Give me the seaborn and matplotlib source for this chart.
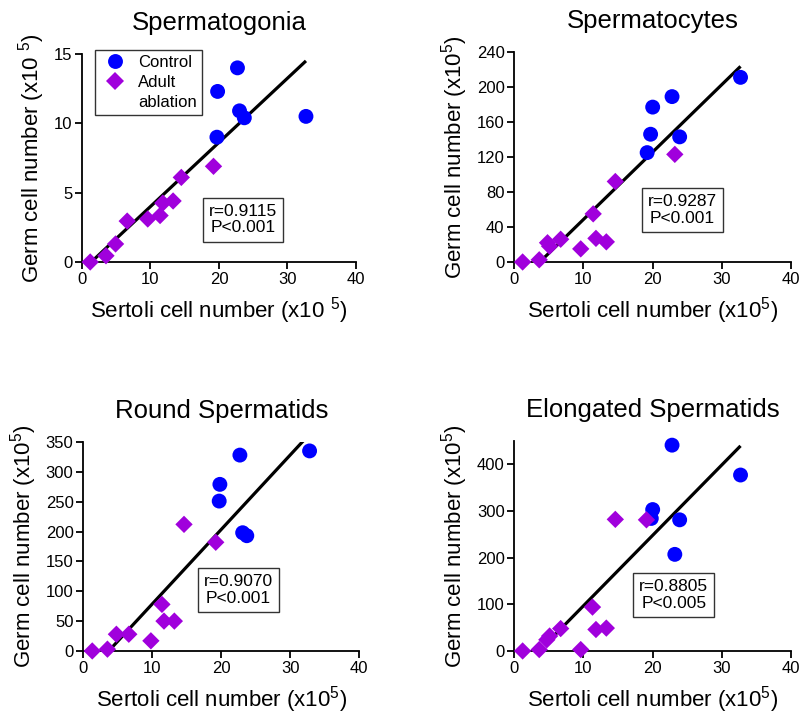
import numpy as np
import pandas as pd
import matplotlib
matplotlib.use("Agg")
import matplotlib.pyplot as plt
from matplotlib.lines import Line2D
import seaborn as sns

sns.set_theme(style="ticks")
plt.rcParams['font.family'] = ['Liberation Sans', 'DejaVu Sans']
plt.rcParams['mathtext.fontset'] = 'custom'
plt.rcParams['mathtext.rm'] = 'Liberation Sans'
plt.rcParams['mathtext.it'] = 'Liberation Sans'
plt.rcParams['text.color'] = 'black'
plt.rcParams['axes.labelcolor'] = 'black'
plt.rcParams['axes.titlecolor'] = 'black'
plt.rcParams['xtick.color'] = 'black'
plt.rcParams['ytick.color'] = 'black'

titles = ["Spermatogonia", "Spermatocytes", "Round Spermatids", "Elongated Spermatids"]

# Control (circles)
ctrl_x1 = [19.7, 19.8, 22.7, 23.0, 23.7, 32.7]
ctrl_y1 = [9.0, 12.3, 14.0, 10.9, 10.4, 10.5]
ctrl_x2 = [19.2, 19.7, 20.0, 22.8, 23.9, 32.7]
ctrl_y2 = [125, 146, 177, 189, 143, 211]
ctrl_x3 = [19.7, 19.8, 22.7, 23.1, 23.7, 32.8]
ctrl_y3 = [251, 279, 328, 198, 193, 335]
ctrl_x4 = [19.8, 20.0, 22.8, 23.2, 23.9, 32.7]
ctrl_y4 = [284, 303, 441, 207, 281, 377]

# Adult ablation (diamonds)
abl_x1 = [1.2, 3.5, 4.9, 6.6, 9.6, 11.4, 11.8, 13.3, 14.5, 19.2]
abl_y1 = [0.0, 0.45, 1.3, 2.95, 3.1, 3.35, 4.25, 4.4, 6.1, 6.9]
abl_x2 = [1.2, 3.6, 4.8, 5.1, 6.7, 9.6, 11.4, 11.8, 13.3, 14.6, 23.2]
abl_y2 = [0, 2.5, 22, 18, 26, 15, 55, 27, 23, 92, 123]
abl_x3 = [1.3, 3.5, 4.8, 6.6, 9.8, 11.4, 11.7, 13.2, 14.6, 19.2]
abl_y3 = [0, 3, 28, 28, 17, 78, 50, 50, 212, 182]
abl_x4 = [1.2, 3.6, 4.7, 5.1, 6.7, 9.6, 11.3, 11.8, 13.3, 14.6, 19.1]
abl_y4 = [0, 3, 24, 32, 48, 3, 94, 46, 49, 282, 281]

fit_start = [1.45, 4.2, 4.1, 4.4]
stats = ["r=0.9115\nP<0.001", "r=0.9287\nP<0.001", "r=0.9070\nP<0.001", "r=0.8805\nP<0.005"]
y_max = [15, 240, 350, 450]
y_ticks = [[0, 5, 10, 15], [0, 40, 80, 120, 160, 200, 240],
           [0, 50, 100, 150, 200, 250, 300, 350], [0, 100, 200, 300, 400]]
x_ticks = [0, 10, 20, 30, 40]
xlabels = ["Sertoli cell number (x10 $^{5}$)", "Sertoli cell number (x10$^{5}$)",
           "Sertoli cell number (x10$^{5}$)", "Sertoli cell number (x10$^{5}$)"]
ylabels = ["Germ cell number (x10 $^{5}$)", "Germ cell number (x10$^{5}$)",
           "Germ cell number (x10$^{5}$)", "Germ cell number (x10$^{5}$)"]

ctrl = [(ctrl_x1, ctrl_y1), (ctrl_x2, ctrl_y2), (ctrl_x3, ctrl_y3), (ctrl_x4, ctrl_y4)]
abl = [(abl_x1, abl_y1), (abl_x2, abl_y2), (abl_x3, abl_y3), (abl_x4, abl_y4)]

BLUE = "#0000FF"
PURPLE = "#A000DC"
groups = ["Control", "Adult ablation"]
legend_labels = ["Control", "Adult", "ablation"]

fig = plt.figure(figsize=(8.03, 7.17), dpi=100)
positions = [
    [0.1021, 0.6346, 0.3412, 0.2901],
    [0.6405, 0.6346, 0.3446, 0.2929],
    [0.1037, 0.0921, 0.3437, 0.2915],
    [0.6405, 0.0921, 0.3446, 0.2929],
]
box_pos = [(0.588, 0.204), (0.607, 0.249), (0.562, 0.293), (0.576, 0.268)]

for i in range(4):
    ax = fig.add_axes(positions[i])
    cx, cy = ctrl[i]
    axx, ayy = abl[i]
    df = pd.DataFrame({
        "x": list(cx) + list(axx),
        "y": list(cy) + list(ayy),
        "group": [groups[0]] * len(cx) + [groups[1]] * len(axx),
    })
    # least-squares regression line over all points
    slope, intercept = np.polyfit(df["x"], df["y"], 1)
    lx = np.array([fit_start[i], df["x"].max()])
    ax.plot(lx, slope * lx + intercept, color="black", lw=2.3, zorder=2,
            solid_capstyle="butt")
    sns.scatterplot(data=df, x="x", y="y", hue="group", style="group", size="group",
                    hue_order=groups, style_order=groups, size_order=groups,
                    palette=[BLUE, PURPLE], markers=["o", "D"],
                    sizes={groups[0]: 115, groups[1]: 78},
                    linewidth=0, ax=ax, clip_on=False, zorder=3,
                    legend=(i == 0))
    ax.set_xlim(0, 40)
    ax.set_ylim(0, y_max[i])
    ax.set_xticks(x_ticks)
    ax.set_yticks(y_ticks[i])
    sns.despine(ax=ax)
    for sp in ["left", "bottom"]:
        ax.spines[sp].set_linewidth(1.3)
        ax.spines[sp].set_color("black")
    ax.tick_params(axis="both", direction="out", length=5, width=1.3,
                   labelsize=12, colors="black", pad=2)
    ax.set_title(titles[i], fontsize=18.5, pad=17, color="black")
    ax.set_xlabel(xlabels[i], fontsize=16, labelpad=6, color="black")
    ax.set_ylabel(ylabels[i], fontsize=16, labelpad=5, color="black")
    ax.text(box_pos[i][0], box_pos[i][1], stats[i], transform=ax.transAxes,
            ha="center", va="center", fontsize=12.5, linespacing=1.15, color="black",
            bbox=dict(boxstyle="square,pad=0.35", fc="white", ec="#333333", lw=1.0))
    if i == 0:
        handles, labels = ax.get_legend_handles_labels()
        hmap = dict(zip(labels, handles))
        blank = Line2D([], [], linestyle="none", marker=None)
        leg = ax.legend(handles=[hmap[groups[0]], hmap[groups[1]], blank],
                        labels=legend_labels,
                        loc="upper left", bbox_to_anchor=(0.047, 1.02),
                        borderaxespad=0, frameon=True, fancybox=False, fontsize=12,
                        handletextpad=0.5, borderpad=0.3, labelspacing=0.3,
                        handlelength=1.8)
        leg.get_frame().set_edgecolor("black")
        leg.get_frame().set_linewidth(1.0)
        for t in leg.get_texts():
            t.set_color("black")

fig.savefig("out.png", dpi=100)
